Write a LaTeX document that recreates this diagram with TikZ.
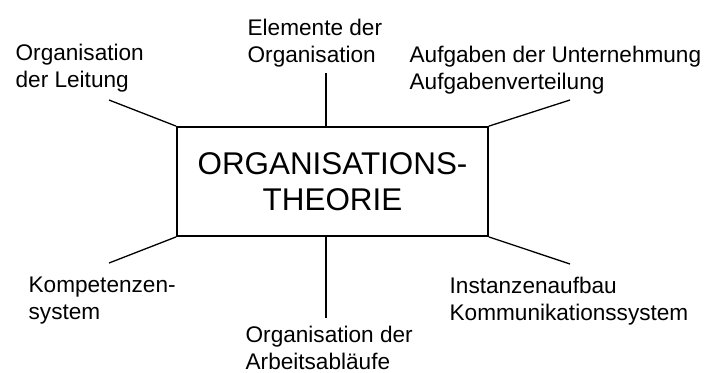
\documentclass[tikz,border=0pt]{standalone}
\usepackage{fontspec}
\setmainfont{Liberation Sans}

\tikzset{
  topic/.style={anchor=north west, inner sep=0pt, align=left, font=\fontsize{11.3}{13.5}\selectfont},
  theory/.style={draw, line width=0.9pt, minimum width=155.5pt, minimum height=54.5pt, inner sep=0pt, align=center, font=\fontsize{15.7}{18}\selectfont}
}

\begin{document}
\begin{tikzpicture}[x=0.5pt, y=-0.5pt, line width=0.65pt]

  \useasboundingbox (0,0) rectangle (704,372);

  \node[theory] (org) at (332.5, 181.5) {ORGANISATIONS-\\THEORIE};

  \node[topic] (leitung) at (15, 43) {Organisation\\der Leitung};
  \node[topic] (elemente) at (247, 18) {Elemente der\\Organisation};
  \node[topic] (aufgaben) at (409, 45) {Aufgaben der Unternehmung\\Aufgabenverteilung};
  \node[topic] (kompetenz) at (28, 276) {Kompetenzen-\\system};
  \node[topic] (ablauf) at (245, 325) {Organisation der\\Arbeitsabläufe};
  \node[topic] (instanz) at (449, 276) {Instanzenaufbau\\Kommunikationssystem};

  \coordinate (lt) at (109, 100);
  \coordinate (t) at (326, 73);
  \coordinate (rt) at (570, 100);
  \coordinate (lb) at (109, 263);
  \coordinate (b) at (326, 318);
  \coordinate (rb) at (570, 264);

  \draw (org.north west) -- (lt);
  \draw (t |- org.north) -- (t);
  \draw (org.north east) -- (rt);
  \draw (org.south west) -- (lb);
  \draw (b |- org.south) -- (b);
  \draw (org.south east) -- (rb);

\end{tikzpicture}
\end{document}
